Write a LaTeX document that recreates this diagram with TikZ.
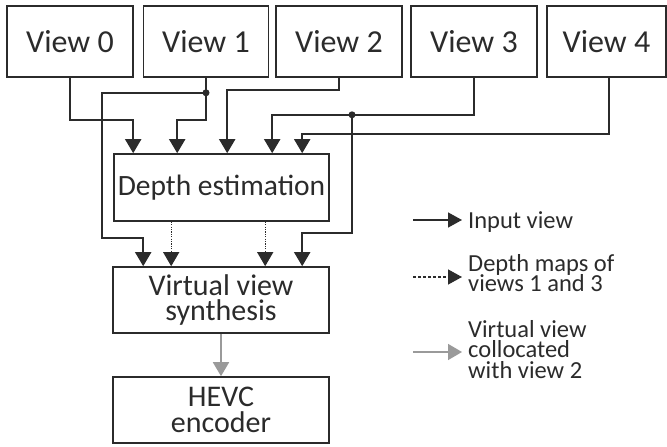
\documentclass[tikz,border=0pt]{standalone}
\usepackage{fontspec}
\setmainfont{Carlito}
\usetikzlibrary{arrows.meta,calc}
\definecolor{ink}{HTML}{2B2B2B}
\definecolor{grayarr}{HTML}{9A9A9A}
\newcommand\mytightlines{\lineskiplimit=-50bp\relax}
\begin{document}
\begin{tikzpicture}[x=1bp,y=-1bp,
  box/.style={draw=ink,line width=1.6bp,rectangle,inner sep=0pt,text=ink,align=center},
  viewbox/.style={box,minimum height=71bp,font=\fontsize{32bp}{36bp}\selectfont},
  bigbox/.style={box,minimum width=216bp,minimum height=66bp},
  conn/.style={draw=ink,line width=1.8bp},
  arr/.style={conn,-{Triangle[width=16bp,length=14bp]}},
  dotarr/.style={draw=ink,line width=1.1bp,dash pattern=on 1.2bp off 1.2bp,-{Triangle[width=16bp,length=14bp]}},
  dasharr/.style={draw=ink,line width=1.3bp,dash pattern=on 3bp off 2bp,-{Triangle[width=15bp,length=14bp]}},
  grayarrow/.style={draw=grayarr,line width=1.8bp,-{Triangle[width=16bp,length=14bp]}},
  jdot/.style={circle,fill=ink,inner sep=0pt,minimum size=7bp},
  legend/.style={anchor=base west,inner sep=0pt,text=ink,align=left,font={\fontsize{24.5bp}{20.5bp}\selectfont\mytightlines}}
]
\useasboundingbox (0,0) rectangle (667,447);

% view boxes
\node[viewbox,minimum width=126bp] (v0) at (70,41.5) {View 0};
\node[viewbox,minimum width=125bp] (v1) at (206,41.5) {View 1};
\node[viewbox,minimum width=126bp] (v2) at (339,41.5) {View 2};
\node[viewbox,minimum width=126bp] (v3) at (474,41.5) {View 3};
\node[viewbox,minimum width=119bp] (v4) at (606.5,41.5) {View 4};

% processing boxes
\node[box,minimum width=215bp,minimum height=67bp,font=\fontsize{29.5bp}{34bp}\selectfont] (dep) at (221.5,187.5) {Depth estimation};
\node[bigbox,font={\fontsize{30bp}{25bp}\selectfont\mytightlines}] (vvs) at (221,300) {Virtual view\\synthesis};
\node[bigbox,font={\fontsize{30bp}{26bp}\selectfont\mytightlines}] (hevc) at (221,410) {HEVC\\encoder};

% junction dots
\node[jdot] (j1) at ($(v1.south)+(0,15)$) {};
\node[jdot] (j3) at ($(v3.south)+(-122,37)$) {};

% input view connectors
\draw[arr] (v0.south) -- ++(0,42) -| ($(dep.north west)+(20,0)$);
\draw[arr] (v1.south) -- ++(0,42) -| ($(dep.north west)+(64,0)$);
\draw[arr] (j1.center) -- ++(-104,0) -- ++(0,145) -| ($(vvs.north west)+(31,0)$);
\draw[arr] (v2.south) -- ++(0,12) -| ($(dep.north west)+(114,0)$);
\draw[arr] (v3.south) -- ++(0,37) -| ($(dep.north west)+(159,0)$);
\draw[arr] (j3.center) -- ++(0,118) -| ($(vvs.north west)+(190,0)$);
\draw[arr] ($(v4.south)+(2.5,0)$) -- ++(0,56) -| ($(dep.north west)+(189,0)$);

% depth maps
\draw[dotarr] ($(dep.south west)+(58,0)$) -- ($(vvs.north west)+(59,0)$);
\draw[dotarr] ($(dep.south west)+(152,0)$) -- ($(vvs.north west)+(153,0)$);

% virtual view
\draw[grayarrow] (vvs.south) -- (hevc.north);

% legend
\coordinate (l1a) at (413,220);
\coordinate (l1b) at (462,220);
\coordinate (l2a) at (413,277);
\coordinate (l2b) at (462,277);
\coordinate (l3a) at (413,352);
\coordinate (l3b) at (462,352);
\draw[conn,line width=1.5bp,-{Triangle[width=15bp,length=14bp]}] (l1a) -- (l1b);
\draw[dasharr] (l2a) -- (l2b);
\draw[grayarrow,line width=1.5bp] (l3a) -- (l3b);
\node[legend] (t1) at (468,228.3) {Input view};
\node[legend] (t2) at (468,292) {Depth maps of\\views 1 and 3};
\node[legend] (t3) at (468,378) {Virtual view\\collocated\\with view 2};
\end{tikzpicture}
\end{document}
